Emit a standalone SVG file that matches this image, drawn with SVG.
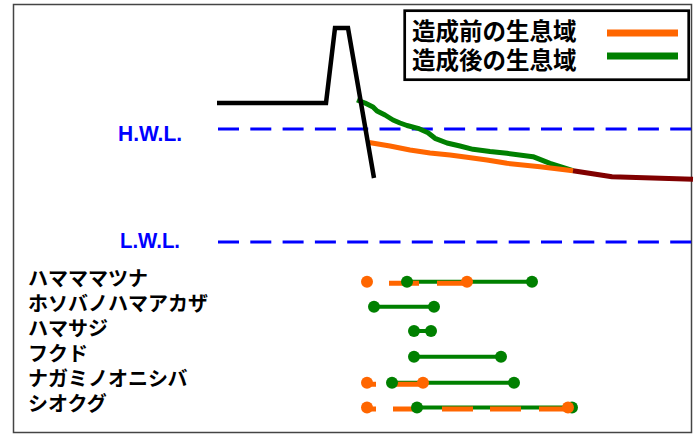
<svg xmlns="http://www.w3.org/2000/svg" width="697" height="438" viewBox="0 0 697 438">
<style>
.jp{font-family:"Noto Sans CJK JP","Noto Sans CJK SC",sans-serif;font-weight:bold;fill:#000}
.lvl{font-family:"Liberation Sans",Arial,sans-serif;font-weight:bold;fill:#0000FF}
.wl{stroke:#0000FF;stroke-width:3;stroke-dasharray:21 11.3;fill:none}
.g{stroke:#008000;stroke-width:4;fill:none}
.o{stroke:#FF6600;stroke-width:5;fill:none}
.gd{fill:#008000}
.od{fill:#FF6600}
</style>
<rect x="0" y="0" width="697" height="438" fill="#fff"/>
<rect id="frame" x="13.5" y="4.5" width="678" height="428" fill="none" stroke="#444" stroke-width="1.5"/>

<g id="waterlevels">
<line class="wl" x1="218" y1="129" x2="692" y2="129"/>
<line class="wl" x1="218" y1="242" x2="692" y2="242"/>
<text class="lvl" x="118" y="140.5" font-size="22" textLength="64" lengthAdjust="spacingAndGlyphs">H.W.L.</text>
<text class="lvl" x="120" y="247.5" font-size="22" textLength="60" lengthAdjust="spacingAndGlyphs">L.W.L.</text>
</g>

<g id="profile">
<polyline points="357,100 365,103 373,107 377,111 385,115 393,120 400,123 407,125.5 418,128.3 428,132.7 435,138.3 447,143 460,146 473,149.3 490,151.5 507,153.3 533,156.7 550,163.3 573,170.7" fill="none" stroke="#008000" stroke-width="5" stroke-linejoin="round"/>
<polyline points="369,142.5 390,146 410,150 430,153 450,155 467,157.3 487,160 507,163.3 540,166.7 573,170.7" fill="none" stroke="#FF6600" stroke-width="5" stroke-linejoin="round"/>
<polyline points="573,170.7 612,176.7 693,179.3" fill="none" stroke="#800000" stroke-width="5" stroke-linejoin="round"/>
<polyline points="217,103 326,103 335,28 348,28 374,178" fill="none" stroke="#000" stroke-width="4.5" stroke-linejoin="miter"/>
</g>

<g id="legend">
<rect x="404.7" y="10.7" width="284" height="69" fill="#fff" stroke="#000" stroke-width="2.7"/>
<text class="jp" x="412" y="40" font-size="23.5">造成前の生息域</text>
<text class="jp" x="412" y="69" font-size="23.5">造成後の生息域</text>
<line x1="607" y1="33" x2="678" y2="33" stroke="#FF6600" stroke-width="7"/>
<line x1="607" y1="56" x2="678" y2="56" stroke="#008000" stroke-width="7"/>
</g>

<g id="species-labels">
<text class="jp" x="28" y="286" font-size="20">ハマママツナ</text>
<text class="jp" x="28" y="311" font-size="20">ホソバノハマアカザ</text>
<text class="jp" x="28" y="336" font-size="20">ハマサジ</text>
<text class="jp" x="28" y="361" font-size="20">フクド</text>
<text class="jp" x="28" y="386" font-size="20">ナガミノオニシバ</text>
<text class="jp" x="28" y="411" font-size="20">シオクグ</text>
</g>

<g id="connectors">
<line class="g" x1="407" y1="281.7" x2="532" y2="281.7"/>
<line class="g" x1="374" y1="306.7" x2="434" y2="306.7"/>
<line class="g" x1="414" y1="331" x2="431" y2="331"/>
<line class="g" x1="414" y1="356.7" x2="501" y2="356.7"/>
<line class="g" x1="392" y1="382.7" x2="514" y2="382.7"/>
<line class="g" x1="417" y1="407.5" x2="572" y2="407.5"/>
<path class="o" d="M367 283.3H371M389 283.3H419M437 283.3H467"/>
<path class="o" d="M367 384.2H376M393 384.2H423"/>
<path class="o" d="M367 409H376M393 409H418M442 409H473M490 409H521M539 409H568"/>
</g>

<g id="row1"><circle class="gd" cx="407" cy="281.7" r="6"/><circle class="gd" cx="532" cy="281.7" r="6"/><circle class="od" cx="367" cy="281.7" r="6"/><circle class="od" cx="467" cy="281.7" r="6"/></g>
<g id="row2"><circle class="gd" cx="374" cy="306.7" r="6"/><circle class="gd" cx="434" cy="306.7" r="6"/></g>
<g id="row3"><circle class="gd" cx="414" cy="331" r="6"/><circle class="gd" cx="431" cy="331" r="6"/></g>
<g id="row4"><circle class="gd" cx="414" cy="356.7" r="6"/><circle class="gd" cx="501" cy="356.7" r="6"/></g>
<g id="row5"><circle class="gd" cx="392" cy="382.7" r="6"/><circle class="gd" cx="514" cy="382.7" r="6"/><circle class="od" cx="367" cy="382.7" r="6"/><circle class="od" cx="423" cy="382.7" r="6"/></g>
<g id="row6"><circle class="gd" cx="417" cy="407.5" r="6"/><circle class="gd" cx="572" cy="407.5" r="6"/><circle class="od" cx="367" cy="407.5" r="6"/><circle class="od" cx="568" cy="407.5" r="6"/></g>
</svg>
